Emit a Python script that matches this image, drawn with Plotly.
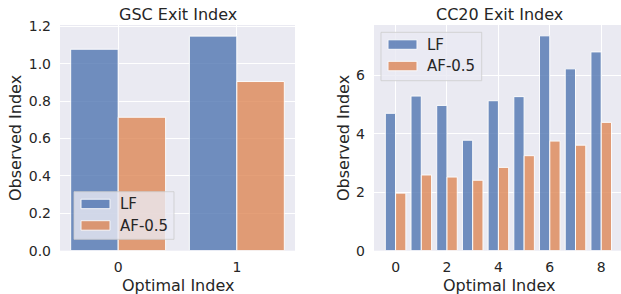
import plotly.graph_objects as go

# ---- data ----
gsc_x = [0, 1]
gsc_lf = [1.078, 1.148]
gsc_af = [0.714, 0.905]

cc_x = [0, 1, 2, 3, 4, 5, 6, 7, 8]
cc_lf = [4.70, 5.29, 4.97, 3.78, 5.13, 5.27, 7.35, 6.22, 6.80]
cc_af = [1.97, 2.59, 2.52, 2.41, 2.85, 3.25, 3.75, 3.61, 4.39]

series_names = ["LF", "AF-0.5"]
titles = ["GSC Exit Index", "CC20 Exit Index"]
xlabel = "Optimal Index"
ylabel = "Observed Index"

W, H = 621, 294
BLUE = "#4C72B0"
ORANGE = "#DD8452"
BG = "#EAEAF2"
TXT = "#262626"
FONT = "DejaVu Sans"
OP = 0.78


def px(x):
    return x / W


def py(y):
    return 1 - y / H


fig = go.Figure()


def add_bars(xs, lf, af, xa, ya):
    fig.add_trace(go.Bar(x=xs, y=lf, offset=-0.4, width=0.4, marker=dict(color=BLUE, opacity=OP,
                         line=dict(color="white", width=1)), xaxis=xa, yaxis=ya, showlegend=False, name=series_names[0]))
    fig.add_trace(go.Bar(x=xs, y=af, offset=0.0, width=0.4, marker=dict(color=ORANGE, opacity=OP,
                         line=dict(color="white", width=1)), xaxis=xa, yaxis=ya, showlegend=False, name=series_names[1]))


add_bars(gsc_x, gsc_lf, gsc_af, "x", "y")
add_bars(cc_x, cc_lf, cc_af, "x2", "y2")

ydom = [py(250.7), py(25)]
axis_common = dict(showgrid=True, gridcolor="white", gridwidth=1, zeroline=False, showline=False,
                   automargin=False,
                   tickfont=dict(family=FONT, size=14, color=TXT), ticks="")
xaxis_common = dict(axis_common, ticklabelstandoff=6)
yaxis_common = dict(axis_common, ticklabelstandoff=8)

fig.update_layout(
    template="none",
    width=W, height=H, autosize=False,
    margin=dict(l=0, r=0, t=0, b=0, pad=0, autoexpand=False),
    paper_bgcolor="white",
    plot_bgcolor=BG,
    barmode="overlay",
    showlegend=False,
    xaxis=dict(domain=[px(60), px(295)], range=[-0.49, 1.49], tickvals=[0, 1], **xaxis_common),
    yaxis=dict(domain=ydom, range=[0, 1.2075], tickvals=[0, 0.2, 0.4, 0.6, 0.8, 1.0, 1.2],
               ticktext=["0.0", "0.2", "0.4", "0.6", "0.8", "1.0", "1.2"], anchor="x", **yaxis_common),
    xaxis2=dict(domain=[px(374), 1.0], range=[-0.84, 8.77], tickvals=[0, 2, 4, 6, 8], anchor="y2", **xaxis_common),
    yaxis2=dict(domain=ydom, range=[0, 7.72], tickvals=[0, 2, 4, 6], anchor="x2", **yaxis_common),
)

annots = []
# titles
for t, cx in zip(titles, [177.5, 499]):
    annots.append(dict(text=t, x=px(cx), y=py(15), xref="paper", yref="paper", showarrow=False,
                       xanchor="center", yanchor="middle", font=dict(family=FONT, size=16, color=TXT)))
# x labels
for cx in [177.5, 499]:
    annots.append(dict(text=xlabel, x=px(cx), y=py(285.5), xref="paper", yref="paper", showarrow=False,
                       xanchor="center", yanchor="middle", font=dict(family=FONT, size=16, color=TXT)))
# y labels
for cx in [15, 343]:
    annots.append(dict(text=ylabel, x=px(cx), y=py(138), xref="paper", yref="paper", showarrow=False,
                       textangle=-90, xanchor="center", yanchor="middle", font=dict(family=FONT, size=16, color=TXT)))

shapes = []


def legend(x0, y0, x1, y1):
    shapes.append(dict(type="rect", xref="paper", yref="paper", x0=px(x0), x1=px(x1), y0=py(y1), y1=py(y0),
                       fillcolor="rgba(234,234,242,0.8)", line=dict(color="rgba(204,204,204,0.8)", width=1),
                       layer="above"))
    for i, (c, nm) in enumerate(zip([BLUE, ORANGE], series_names)):
        top = y0 + 7.5 + i * 21.5
        shapes.append(dict(type="rect", xref="paper", yref="paper", x0=px(x0 + 7), x1=px(x0 + 36),
                           y0=py(top + 9.5), y1=py(top), fillcolor=c, opacity=OP,
                           line=dict(color="white", width=1), layer="above"))
        annots.append(dict(text=nm, x=px(x0 + 44), y=py(top + 5), xref="paper", yref="paper", showarrow=False,
                           xanchor="left", yanchor="middle", font=dict(family=FONT, size=15, color=TXT)))


legend(74, 191.7, 174, 239.3)
legend(381, 32.3, 481.7, 80.7)

fig.update_layout(annotations=annots, shapes=shapes)
fig.write_html("out.html", config={"displayModeBar": False},
               post_script="document.body.style.margin='0';document.body.style.overflow='hidden';")
